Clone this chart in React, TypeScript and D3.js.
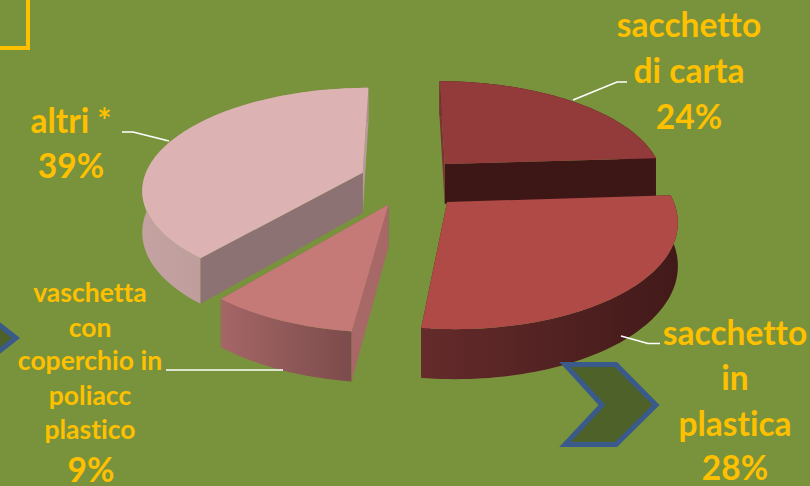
import React from "react";
import * as d3 from "d3";

const WIDTH = 810;
const HEIGHT = 486;

// Packaging share, in percent, clockwise from twelve o'clock
const sliceNames = ["sacchetto di carta", "sacchetto in plastica", "vaschetta", "altri"];
const sliceValues = [24, 28, 9, 39];

// Shift of each slice away from the pie centre, on the ground plane
const explodeX = [41, 41, -16, -43];
const explodeY = [-47, 36, 41, -27];

const topColors = ["#933a3a", "#b04a47", "#c67a78", "#dcb2b2"];
const startWallColors = ["#7a3434", "#4a1c1c", "#a86868", "#8c7272"];
const endWallColors = ["#3d1716", "#4a1c1c", "#8c5c5c", "#b89a9a"];
const outerFrom = ["#3d1716", "#652b2b", "#a56666", "#c4a2a2"];
const outerTo = ["#3d1716", "#421919", "#7c4b4b", "#b09090"];
const drawOrder = [3, 0, 1, 2];

const RADIUS = 221;
const TILT = 0.46;
const PERSPECTIVE = 0.0007;
const THICKNESS = 41;
const CENTER_X = 405;
const CENTER_Y = 185;

type P = [number, number];

// Ground-plane point to screen, nearer points are spread wider
const project = (x: number, y: number, z = 0): P => {
  const w = 1 / (1 - y * PERSPECTIVE);
  return [CENTER_X + x * w, CENTER_Y + (y * TILT + z) * w];
};

const line = d3.line<P>();

const arcs = d3.pie<number>().sort(null)(sliceValues);

function sliceShapes(i: number) {
  const arc = arcs[i];
  const ox = explodeX[i];
  const oy = explodeY[i];
  const steps = Math.max(8, Math.round((arc.endAngle - arc.startAngle) * 40));
  const angles = d3.range(steps + 1).map(
    (k) => arc.startAngle + ((arc.endAngle - arc.startAngle) * k) / steps
  );
  const rim = (z: number): P[] =>
    angles.map((a) => project(ox + RADIUS * Math.sin(a), oy - RADIUS * Math.cos(a), z));
  const topRim = rim(0);
  const lowRim = rim(THICKNESS);
  const apex = project(ox, oy);
  const apexLow = project(ox, oy, THICKNESS);
  const wall = (a: P, b: P) => line([apex, a, b, apexLow])! + "Z";
  return {
    top: line([apex, ...topRim])! + "Z",
    outer: line([...topRim, ...[...lowRim].reverse()])! + "Z",
    startWall: wall(topRim[0], lowRim[0]),
    endWall: wall(topRim[steps], lowRim[steps]),
  };
}

const labelFont = "Lato, Carlito, sans-serif";
const GOLD = "#ffc000";

const bigLabels: { x: number; y: number; text: string }[] = [
  { x: 689, y: 37, text: "sacchetto" },
  { x: 689, y: 83, text: "di carta" },
  { x: 689, y: 129, text: "24%" },
  { x: 71, y: 133, text: "altri *" },
  { x: 71, y: 178, text: "39%" },
  { x: 735, y: 345, text: "sacchetto" },
  { x: 735, y: 390, text: "in" },
  { x: 735, y: 436, text: "plastica" },
  { x: 735, y: 480, text: "28%" },
  { x: 91, y: 482, text: "9%" },
];

const smallLabels: { x: number; y: number; text: string }[] = [
  { x: 90, y: 302, text: "vaschetta" },
  { x: 90, y: 337, text: "con" },
  { x: 90, y: 370, text: "coperchio in" },
  { x: 90, y: 405, text: "poliacc" },
  { x: 90, y: 439, text: "plastico" },
];

const leaders: P[][] = [
  [[627, 82], [617, 82], [573, 100]],
  [[122, 132], [133, 132], [169, 141]],
  [[660, 343.5], [648, 343.5], [621, 336]],
  [[166, 370], [283, 370]],
];

export default function App() {
  return (
    <svg
      width={WIDTH}
      height={HEIGHT}
      viewBox={`0 0 ${WIDTH} ${HEIGHT}`}
      style={{ position: "absolute", left: 0, top: 0, display: "block" }}
    >
      <defs>
        {sliceValues.map((_, i) => (
          <linearGradient key={i} id={`outer-${i}`} x1="0" x2="1" y1="0" y2="0">
            <stop offset="0" stopColor={outerFrom[i]} />
            <stop offset="1" stopColor={outerTo[i]} />
          </linearGradient>
        ))}
      </defs>
      <rect width={WIDTH} height={HEIGHT} fill="#78933c" />

      <path d="M-4 48H28V-4" fill="none" stroke={GOLD} strokeWidth={4} />

      {drawOrder.map((i) => {
        const s = sliceShapes(i);
        return (
          <g key={sliceNames[i]}>
            <path d={s.endWall} fill={endWallColors[i]} />
            <path d={s.outer} fill={`url(#outer-${i})`} />
            <path d={s.startWall} fill={startWallColors[i]} />
            <path d={s.top} fill={topColors[i]} />
          </g>
        );
      })}

      {/* Chevrons sit above the pie */}
      <path
        d="M565 364.5H616L656 405L616 444.5H565L602 405Z"
        fill="#4e6128"
        stroke="#3a5a8c"
        strokeWidth={5}
      />
      <path d="M-8 319L16 338L-8 357Z" fill="#4e6128" stroke="#3a5a8c" strokeWidth={5} />

      {leaders.map((pts, i) => (
        <path key={i} d={line(pts)!} fill="none" stroke="#ffffff" strokeWidth={1.6} />
      ))}

      <g
        fontFamily={labelFont}
        fontWeight={700}
        fill={GOLD}
        textAnchor="middle"
        style={{ fontVariantLigatures: "none" }}
      >
        {bigLabels.map((l) => (
          <text key={`${l.text}-${l.x}`} x={l.x} y={l.y} fontSize={33.5}>
            {l.text}
          </text>
        ))}
        {smallLabels.map((l) => (
          <text key={l.text} x={l.x} y={l.y} fontSize={26.5}>
            {l.text}
          </text>
        ))}
      </g>
    </svg>
  );
}
